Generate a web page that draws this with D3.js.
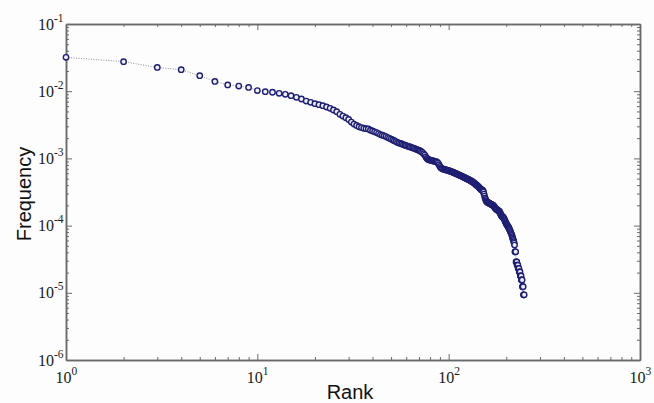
<!DOCTYPE html>
<html><head><meta charset="utf-8">
<script src="https://cdn.jsdelivr.net/npm/d3@7"></script>
<style>html,body{margin:0;padding:0;background:#fff;} svg{display:block}</style>
</head><body>
<svg id="chart" width="654" height="403"></svg>
<script>
// ---- data ----
const frequency = [
  3.19e-2, 2.75e-2, 2.26e-2, 2.09e-2, 1.70e-2, 1.40e-2, 1.24e-2, 1.19e-2, 1.14e-2, 1.02e-2,
  9.84e-3, 9.64e-3, 9.31e-3, 8.99e-3, 8.57e-3, 8.11e-3, 7.66e-3, 7.14e-3, 6.84e-3, 6.53e-3,
  6.31e-3, 6.10e-3, 5.82e-3, 5.56e-3, 5.25e-3, 4.95e-3, 4.53e-3, 4.27e-3, 4.03e-3, 3.80e-3,
  3.47e-3, 3.24e-3, 3.09e-3, 2.96e-3, 2.88e-3, 2.81e-3, 2.77e-3, 2.74e-3, 2.63e-3, 2.56e-3,
  2.49e-3, 2.42e-3, 2.34e-3, 2.26e-3, 2.21e-3, 2.17e-3, 2.11e-3, 2.04e-3, 1.99e-3, 1.94e-3,
  1.88e-3, 1.83e-3, 1.78e-3, 1.73e-3, 1.69e-3, 1.67e-3, 1.64e-3, 1.60e-3, 1.57e-3, 1.55e-3,
  1.52e-3, 1.50e-3, 1.48e-3, 1.45e-3, 1.43e-3, 1.41e-3, 1.39e-3, 1.36e-3, 1.34e-3, 1.31e-3,
  1.29e-3, 1.26e-3, 1.22e-3, 1.17e-3, 1.12e-3, 1.05e-3, 1.00e-3, 9.66e-4, 9.55e-4, 9.44e-4,
  9.33e-4, 9.25e-4, 9.16e-4, 9.08e-4, 8.99e-4, 8.91e-4, 8.81e-4, 8.51e-4, 8.04e-4, 7.59e-4,
  7.24e-4, 7.08e-4, 7.00e-4, 6.92e-4, 6.85e-4, 6.79e-4, 6.73e-4, 6.67e-4, 6.61e-4, 6.55e-4,
  6.52e-4, 6.46e-4, 6.38e-4, 6.31e-4, 6.24e-4, 6.17e-4, 6.10e-4, 6.03e-4, 5.96e-4, 5.89e-4,
  5.82e-4, 5.75e-4, 5.69e-4, 5.62e-4, 5.56e-4, 5.50e-4, 5.43e-4, 5.37e-4, 5.31e-4, 5.25e-4,
  5.19e-4, 5.13e-4, 5.07e-4, 5.01e-4, 4.95e-4, 4.90e-4, 4.84e-4, 4.79e-4, 4.74e-4, 4.68e-4,
  4.61e-4, 4.55e-4, 4.49e-4, 4.43e-4, 4.37e-4, 4.30e-4, 4.22e-4, 4.14e-4, 4.06e-4, 3.99e-4,
  3.92e-4, 3.85e-4, 3.78e-4, 3.71e-4, 3.63e-4, 3.55e-4, 3.48e-4, 3.43e-4, 3.39e-4, 3.36e-4,
  3.31e-4, 3.16e-4, 2.95e-4, 2.75e-4, 2.57e-4, 2.45e-4, 2.34e-4, 2.26e-4, 2.24e-4, 2.21e-4,
  2.19e-4, 2.17e-4, 2.15e-4, 2.13e-4, 2.11e-4, 2.09e-4, 2.07e-4, 2.05e-4, 2.03e-4, 2.01e-4,
  2.00e-4, 1.95e-4, 1.91e-4, 1.86e-4, 1.82e-4, 1.79e-4, 1.76e-4, 1.74e-4, 1.72e-4, 1.70e-4,
  1.68e-4, 1.66e-4, 1.64e-4, 1.62e-4, 1.58e-4, 1.53e-4, 1.48e-4, 1.43e-4, 1.40e-4, 1.37e-4,
  1.36e-4, 1.34e-4, 1.32e-4, 1.29e-4, 1.26e-4, 1.22e-4, 1.17e-4, 1.14e-4, 1.10e-4, 1.07e-4,
  1.05e-4, 1.02e-4, 1.00e-4, 9.77e-5, 9.55e-5, 9.29e-5, 9.02e-5, 8.75e-5, 8.51e-5, 8.22e-5,
  7.94e-5, 7.67e-5, 7.41e-5, 7.16e-5, 6.84e-5, 6.53e-5, 6.24e-5, 6.03e-5, 5.75e-5, 5.50e-5,
  5.13e-5, 4.07e-5, 4.07e-5, 4.07e-5, 2.88e-5, 2.88e-5, 2.88e-5, 2.57e-5, 2.57e-5, 2.57e-5,
  2.29e-5, 2.29e-5, 2.29e-5, 2.04e-5, 2.04e-5, 2.04e-5, 1.78e-5, 1.78e-5, 1.78e-5, 1.55e-5,
  1.55e-5, 1.55e-5, 1.23e-5, 1.23e-5, 1.23e-5, 9.33e-6, 9.33e-6, 9.33e-6
];
const xTickExponents = [0, 1, 2, 3];
const yTickExponents = [-6, -5, -4, -3, -2, -1];
const xTitle = "Rank";
const yTitle = "Frequency";

// ---- layout ----
const W = 654, H = 403;
const plot = {left: 66, right: 640, top: 24, bottom: 360};
const svg = d3.select("#chart");
svg.append("rect").attr("width", W).attr("height", H).attr("fill", "#fdfdfd");

const x = d3.scaleLog().domain([1, 1000]).range([plot.left, plot.right]);
const y = d3.scaleLog().domain([1e-6, 1e-1]).range([plot.bottom, plot.top]);

const data = frequency.map((f, i) => ({rank: i + 1, f}));

// minor tick positions (2..9 in each decade)
function minorTicks(exps) {
  const out = [];
  for (let i = 0; i < exps.length - 1; i++)
    for (let k = 2; k <= 9; k++) out.push(k * Math.pow(10, exps[i]));
  return out;
}
const xMajor = xTickExponents.map(e => Math.pow(10, e));
const yMajor = yTickExponents.map(e => Math.pow(10, e));
const xMinor = minorTicks(xTickExponents);
const yMinor = minorTicks(yTickExponents);

const axisColor = "#6a6a6a";
function styleAxis(g) {
  g.selectAll("path.domain").attr("stroke", axisColor).attr("stroke-width", 1.5);
  g.selectAll(".tick line").attr("stroke", axisColor).attr("stroke-width", 1);
  g.selectAll(".tick text").remove();
}
const axes = [
  [d3.axisBottom(x), `translate(0,${plot.bottom})`, xMajor, xMinor],
  [d3.axisTop(x), `translate(0,${plot.top})`, xMajor, xMinor],
  [d3.axisLeft(y), `translate(${plot.left},0)`, yMajor, yMinor],
  [d3.axisRight(y), `translate(${plot.right},0)`, yMajor, yMinor]
];
axes.forEach(([ax, tr, maj, min]) => {
  svg.append("g").attr("transform", tr)
    .call(ax.tickValues(min).tickSizeInner(-3).tickSizeOuter(0).tickFormat(""))
    .call(styleAxis);
  svg.append("g").attr("transform", tr)
    .call(ax.tickValues(maj).tickSizeInner(-6).tickSizeOuter(0).tickFormat(""))
    .call(styleAxis);
});

// ---- data line + markers ----
const line = d3.line().x(d => x(d.rank)).y(d => y(d.f));
svg.append("path").datum(data)
  .attr("d", line).attr("fill", "none")
  .attr("stroke", "#8c8ca0").attr("stroke-width", 1)
  .attr("stroke-dasharray", "1,1.5");

svg.append("g").selectAll("circle").data(data).join("circle")
  .attr("cx", d => x(d.rank)).attr("cy", d => y(d.f))
  .attr("r", 2.7)
  .attr("fill", "#eeeef6")
  .attr("stroke", "#1e1e72")
  .attr("stroke-width", 1.4);

// ---- tick labels ----
const serif = "'Liberation Serif', 'Times New Roman', serif";
function powLabel(sel, e) {
  sel.append("tspan").text("10");
  sel.append("tspan").attr("dy", -8).attr("font-size", 11.5).text(String(e));
}
xTickExponents.forEach(e => {
  const t = svg.append("text")
    .attr("x", x(Math.pow(10, e)) - 10.5).attr("y", 383)
    .attr("font-family", serif).attr("font-size", 16).attr("fill", "#1a1a1a");
  powLabel(t, e);
});
yTickExponents.forEach(e => {
  const t = svg.append("text")
    .attr("x", 38).attr("y", y(Math.pow(10, e)) + 5.5)
    .attr("font-family", serif).attr("font-size", 16).attr("fill", "#1a1a1a");
  powLabel(t, e);
});

// ---- axis titles ----
const sans = "'Liberation Sans', Arial, sans-serif";
svg.append("text").attr("x", 350).attr("y", 398.5)
  .attr("text-anchor", "middle").attr("font-family", sans)
  .attr("font-size", 20).attr("fill", "#111").text(xTitle);
svg.append("text").attr("transform", "translate(31,194) rotate(-90)")
  .attr("text-anchor", "middle").attr("font-family", sans)
  .attr("font-size", 20).attr("fill", "#111").text(yTitle);
</script>
</body></html>
